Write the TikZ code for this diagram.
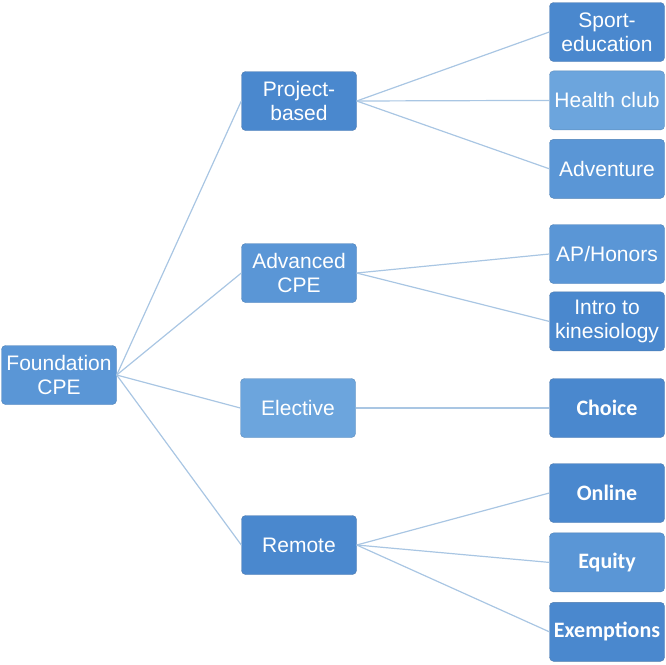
\documentclass[tikz,border=0pt]{standalone}
\usepackage{fontspec}
\setmainfont{Liberation Sans}
\newfontfamily\calibrifont{Carlito}
\usetikzlibrary{positioning}
\definecolor{cpeDark}{HTML}{4A88CE}
\definecolor{cpeMid}{HTML}{5A96D6}
\definecolor{cpeLight}{HTML}{6CA5DD}
\definecolor{cpeLine}{HTML}{A9C6E3}

\begin{document}
\begin{tikzpicture}[
x=1pt,y=-1pt,
node distance=9pt,
box/.style={
rounded corners=4pt,
minimum width=115pt,
minimum height=59pt,
inner sep=0pt,
align=center,
text=white,
font=\fontsize{21}{24}\selectfont
},
dark/.style={box,fill=cpeDark,draw=cpeDark!80!black!90},
mid/.style={box,fill=cpeMid,draw=cpeMid!85!black},
light/.style={box,fill=cpeLight,draw=cpeLight!85!black},
calib/.style={font=\fontsize{22}{25}\calibrifont\bfseries},
link/.style={draw=cpeLine,line width=1.2pt}
]
\useasboundingbox (0,0) rectangle (666,664);

\node[mid] (found) at (59,375) {Foundation\\CPE};

\node[dark] (project) at (299,101) {Project-\\based};
\node[mid] (advanced) at (299,273) {Advanced\\CPE};
\node[light] (elective) at (298,408) {Elective};
\node[dark] (remote) at (299,545) {Remote};

\node[dark] (sport) at (607,32) {Sport-\\education};
\node[light] (health) [below=of sport] {Health club};
\node[mid] (adventure) [below=of health] {Adventure};

\node[mid] (honors) at (607,254) {AP/Honors};
\node[dark] (kines) [below=8pt of honors] {Intro to\\kinesiology};

\node[dark,calib] (choice) at (607,408) {Choice};

\node[dark,calib] (online) at (607,493) {Online};
\node[mid,calib] (equity) [below=10pt of online] {Equity};
\node[dark,calib] (exempt) [below=10pt of equity] {Exemptions};

\foreach \n in {project,advanced,elective,remote}
  \draw[link] (found.east)--(\n.west);
\foreach \n in {sport,health,adventure}
  \draw[link] (project.east)--(\n.west);
\foreach \n in {honors,kines}
  \draw[link] (advanced.east)--(\n.west);
\draw[link] (elective.east)--(choice.west);
\foreach \n in {online,equity,exempt}
  \draw[link] (remote.east)--(\n.west);

\end{tikzpicture}
\end{document}
